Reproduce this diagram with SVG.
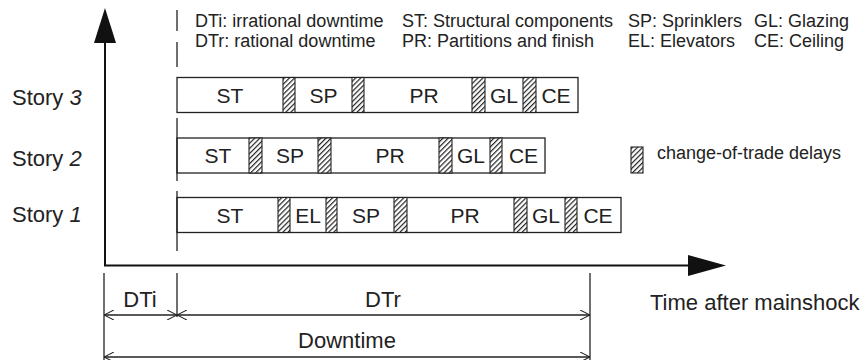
<svg xmlns="http://www.w3.org/2000/svg" width="868" height="360" viewBox="0 0 868 360">
<defs>
<pattern id="hatch" patternUnits="userSpaceOnUse" width="3.6" height="3.6" patternTransform="rotate(45)">
<rect width="3.6" height="3.6" fill="#fff"/>
<line x1="0.6" y1="0" x2="0.6" y2="3.6" stroke="#222" stroke-width="1.2"/>
</pattern>
<marker id="open" viewBox="0 0 10 10" refX="10" refY="5" markerWidth="10" markerHeight="10" markerUnits="userSpaceOnUse" orient="auto-start-reverse">
<path d="M0,0 L10,5 L0,10" fill="none" stroke="#222" stroke-width="1.1"/>
</marker>
</defs>
<style>
text{font-family:"Liberation Sans",Arial,Helvetica,sans-serif;fill:#222}
.leg{font-size:18px}
.lab{font-size:21px;text-anchor:middle}
.big{font-size:22px}
.bar{fill:#fff;stroke:#222;stroke-width:1.3}
.h{fill:url(#hatch);stroke:#222;stroke-width:1.1}
.ax{stroke:#111;stroke-width:2;fill:none}
.dim{stroke:#222;stroke-width:1.3;fill:none}
</style>
<rect width="868" height="360" fill="#fff"/>

<g id="legend">
<text class="leg" x="195" y="27">DTi: irrational downtime</text>
<text class="leg" x="195" y="47">DTr: rational downtime</text>
<text class="leg" x="402" y="27">ST: Structural components</text>
<text class="leg" x="402" y="47">PR: Partitions and finish</text>
<text class="leg" x="628" y="27">SP: Sprinklers</text>
<text class="leg" x="628" y="47">EL: Elevators</text>
<text class="leg" x="754" y="27">GL: Glazing</text>
<text class="leg" x="754" y="47">CE: Ceiling</text>
</g>

<g id="story3-label"><text class="big" x="12" y="105">Story <tspan font-style="italic">3</tspan></text></g>
<g id="story2-label"><text class="big" x="12" y="166">Story <tspan font-style="italic">2</tspan></text></g>
<g id="story1-label"><text class="big" x="12" y="222">Story <tspan font-style="italic">1</tspan></text></g>

<g id="story3-bar">
<rect class="bar" x="177" y="77.5" width="401" height="35"/>
<rect class="h" x="283" y="77.5" width="12" height="35"/>
<rect class="h" x="352" y="77.5" width="12" height="35"/>
<rect class="h" x="472" y="77.5" width="13" height="35"/>
<rect class="h" x="523" y="77.5" width="13" height="35"/>
<text class="lab" x="230" y="102.5">ST</text>
<text class="lab" x="323.5" y="102.5">SP</text>
<text class="lab" x="424" y="102.5">PR</text>
<text class="lab" x="504" y="102.5">GL</text>
<text class="lab" x="556" y="102.5">CE</text>
</g>

<g id="story2-bar">
<rect class="bar" x="177" y="138" width="368" height="35"/>
<rect class="h" x="249" y="138" width="13" height="35"/>
<rect class="h" x="318" y="138" width="13" height="35"/>
<rect class="h" x="439" y="138" width="13" height="35"/>
<rect class="h" x="490" y="138" width="12" height="35"/>
<text class="lab" x="218" y="163">ST</text>
<text class="lab" x="290" y="163">SP</text>
<text class="lab" x="390" y="163">PR</text>
<text class="lab" x="471" y="163">GL</text>
<text class="lab" x="523.5" y="163">CE</text>
</g>

<g id="story1-bar">
<rect class="bar" x="177" y="197.5" width="444" height="35"/>
<rect class="h" x="278" y="197.5" width="12" height="35"/>
<rect class="h" x="326" y="197.5" width="11" height="35"/>
<rect class="h" x="394" y="197.5" width="13" height="35"/>
<rect class="h" x="514" y="197.5" width="13" height="35"/>
<rect class="h" x="565" y="197.5" width="12" height="35"/>
<text class="lab" x="230" y="222.5">ST</text>
<text class="lab" x="308" y="222.5">EL</text>
<text class="lab" x="366" y="222.5">SP</text>
<text class="lab" x="465" y="222.5">PR</text>
<text class="lab" x="546" y="222.5">GL</text>
<text class="lab" x="598" y="222.5">CE</text>
</g>

<g id="delay-legend">
<rect class="h" x="631" y="147" width="12" height="26"/>
<text class="leg" x="657" y="159">change-of-trade delays</text>
</g>

<g id="axis-labels">
<text class="big" x="650" y="310">Time after mainshock</text>
</g>

<g id="connectors">
<line class="ax" x1="105" y1="265.5" x2="105" y2="40"/>
<polygon points="105,8 94,43 116,43" fill="#111"/>
<line class="ax" x1="104" y1="265.5" x2="692" y2="265.5"/>
<polygon points="726,265.5 688,255 688,276" fill="#111"/>
<path class="dim" d="M177,10V31 M177,42V67 M177,118V181 M177,191V251"/>
<line class="dim" x1="104" y1="273" x2="104" y2="360"/>
<line class="dim" x1="177" y1="273" x2="177" y2="317"/>
<line class="dim" x1="590" y1="273" x2="590" y2="360"/>
<line class="dim" x1="104" y1="315" x2="177" y2="315" marker-start="url(#open)" marker-end="url(#open)"/>
<line class="dim" x1="177" y1="315" x2="590" y2="315" marker-start="url(#open)" marker-end="url(#open)"/>
<line class="dim" x1="104" y1="357" x2="590" y2="357" marker-start="url(#open)" marker-end="url(#open)"/>
</g>

<g id="dimension-labels">
<text class="big" x="140" y="307" text-anchor="middle">DTi</text>
<text class="big" x="383" y="307" text-anchor="middle">DTr</text>
<text class="big" x="347" y="348" text-anchor="middle">Downtime</text>
</g>
</svg>
